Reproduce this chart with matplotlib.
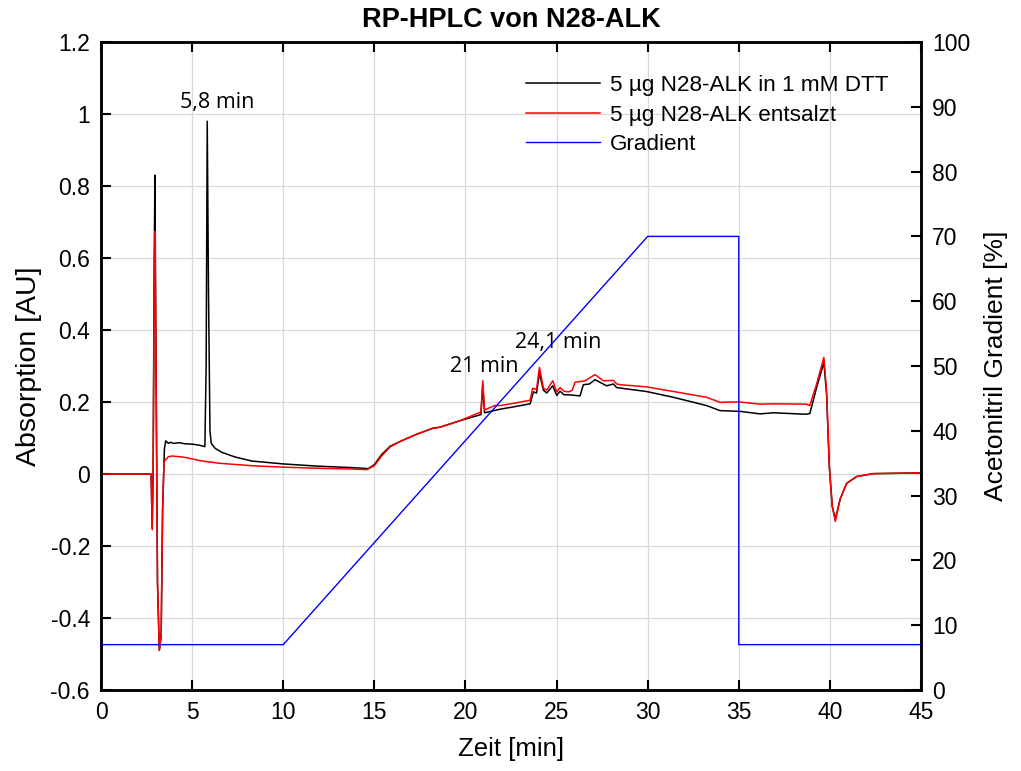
import matplotlib
matplotlib.use("Agg")
import matplotlib.pyplot as plt

# ---------------- data ----------------
t_dtt = [0, 2.75, 2.81, 2.86, 2.92, 2.96, 3.02, 3.1, 3.2, 3.3, 3.38, 3.48, 3.55,
         3.7, 3.8, 4.0, 4.3, 4.6, 5.0, 5.4, 5.7, 5.77, 5.83, 5.9, 5.98, 6.05,
         6.27, 6.64, 7.37, 8.28, 10.0, 11.83, 13.66, 14.67, 15.0, 15.4, 15.86,
         16.4, 17.3, 18.2, 18.6, 19.7, 20.5, 20.85, 20.95, 21.05, 21.9, 22.7,
         23.55, 23.73, 23.9, 24.06, 24.28, 24.46, 24.79, 25.01, 25.19, 25.41,
         25.65, 26.29, 26.47, 26.8, 27.11, 27.75, 28.12, 28.3, 29.95, 31.42,
         33.24, 33.97, 35.07, 36.17, 36.9, 38.7, 38.9, 39.27, 39.67, 39.82,
         39.97, 40.13, 40.3, 40.56, 40.92, 41.47, 42.38, 45.0]
v_dtt = [0.0, 0.0, -0.15, 0.0, 0.6, 0.83, 0.3, -0.3, -0.49, -0.45, -0.1, 0.07, 0.092,
         0.085, 0.088, 0.085, 0.087, 0.084, 0.083, 0.08, 0.076, 0.3, 0.98, 0.5, 0.12, 0.085,
         0.071, 0.06, 0.047, 0.036, 0.028, 0.022, 0.018, 0.015, 0.026, 0.054, 0.077,
         0.09, 0.11, 0.127, 0.13, 0.148, 0.16, 0.165, 0.245, 0.17, 0.18, 0.187,
         0.195, 0.228, 0.225, 0.28, 0.233, 0.225, 0.245, 0.218, 0.23, 0.22,
         0.22, 0.217, 0.248, 0.25, 0.262, 0.245, 0.25, 0.24, 0.229, 0.213,
         0.19, 0.176, 0.174, 0.167, 0.17, 0.166, 0.168, 0.24, 0.31, 0.22,
         0.02, -0.09, -0.125, -0.07, -0.026, -0.007, 0.001, 0.003]

t_salt = [0, 2.75, 2.81, 2.86, 2.92, 2.96, 3.02, 3.1, 3.2, 3.3, 3.38, 3.46, 3.55,
          3.7, 3.9, 4.5, 5.0, 5.43, 6.46, 8.28, 10.0, 11.83, 13.66, 14.58, 15.0,
          15.4, 15.86, 16.4, 17.3, 18.2, 18.6, 19.7, 20.5, 20.85, 20.95, 21.05,
          21.6, 21.9, 22.72, 23.55, 23.69, 23.9, 24.06, 24.28, 24.46, 24.79,
          25.01, 25.19, 25.41, 25.65, 25.85, 26.02, 26.56, 27.11, 27.57, 28.12,
          28.3, 28.49, 29.95, 30.5, 31.78, 33.24, 33.97, 34.7, 35.07, 36.17,
          36.9, 38.7, 38.9, 39.27, 39.67, 39.82, 39.97, 40.13, 40.3, 40.56,
          40.92, 41.47, 42.38, 45.0]
v_salt = [0.0, 0.0, -0.155, 0.0, 0.5, 0.674, 0.3, -0.3, -0.49, -0.45, -0.1, 0.035, 0.04,
          0.048, 0.05, 0.047, 0.042, 0.037, 0.03, 0.023, 0.019, 0.016, 0.014, 0.012, 0.023,
          0.05, 0.075, 0.09, 0.11, 0.127, 0.13, 0.148, 0.165, 0.172, 0.259, 0.178,
          0.19, 0.19, 0.197, 0.205, 0.238, 0.235, 0.296, 0.238, 0.233, 0.259,
          0.228, 0.24, 0.23, 0.228, 0.232, 0.255, 0.259, 0.276, 0.259, 0.26,
          0.25, 0.248, 0.242, 0.237, 0.226, 0.213, 0.199, 0.2, 0.2, 0.194,
          0.195, 0.194, 0.19, 0.25, 0.324, 0.23, 0.02, -0.09, -0.132, -0.07,
          -0.026, -0.007, 0.001, 0.003]

t_grad = [0, 10, 30, 35, 35, 45]
v_grad = [7, 7, 70, 70, 7, 7]

labels = ["5 µg N28-ALK in 1 mM DTT", "5 µg N28-ALK entsalzt", "Gradient"]
annotations = [("5,8 min", 6.37, 1.033), ("21 min", 21.02, 0.30), ("24,1 min", 25.08, 0.364)]

# ---------------- plot ----------------
plt.rcParams['font.family'] = ['Liberation Sans', 'DejaVu Sans']
fig = plt.figure(figsize=(10.21, 7.71), dpi=100)
ax = fig.add_axes([101/1021, 1-690/771, 820/1021, 648/771])
ax2 = ax.twinx()

l1, = ax.plot(t_dtt, v_dtt, color='black', lw=1.1)
l2, = ax.plot(t_salt, v_salt, color='red', lw=1.1)
l3, = ax2.plot(t_grad, v_grad, color='blue', lw=1.0)

ax.set_xlim(0, 45)
ax.set_ylim(-0.6, 1.2)
ax2.set_ylim(0, 100)
ax.set_xticks(range(0, 46, 5))
ax.set_yticks([-0.6, -0.4, -0.2, 0, 0.2, 0.4, 0.6, 0.8, 1.0, 1.2])
ax.set_yticklabels(['-0.6', '-0.4', '-0.2', '0', '0.2', '0.4', '0.6', '0.8', '1', '1.2'])
ax2.set_yticks(range(0, 101, 10))
ax.grid(True, color='#d9d9d9', lw=0.9)
ax.set_axisbelow(True)

for a in (ax, ax2):
    for s in a.spines.values():
        s.set_linewidth(1.8)
ax.tick_params(axis='both', direction='in', length=7, width=1.5, labelsize=16.5,
               top=True, pad=8)
ax.tick_params(axis='y', left=True, right=False)
ax2.tick_params(axis='y', direction='in', length=7, width=1.5, labelsize=16.5, pad=8)

ax.set_xlabel("Zeit [min]", fontsize=18.5, labelpad=9)
ax.set_ylabel("Absorption [AU]", fontsize=20.5, labelpad=6)
ax2.set_ylabel("Acetonitril Gradient [%]", fontsize=19, labelpad=10)
ax.set_title("RP-HPLC von N28-ALK", fontsize=19.5, fontweight='bold', pad=11)

for txt, x, y in annotations:
    ax.text(x, y, txt, ha='center', va='center', fontsize=15.5, family='Open Sans')

leg = ax2.legend([l1, l2, l3], labels, loc='upper right', bbox_to_anchor=(0.985, 0.98),
                 frameon=False, fontsize=16.2, handlelength=3.3, handletextpad=0.45,
                 labelspacing=0.38)

fig.savefig("out.png", dpi=100)
